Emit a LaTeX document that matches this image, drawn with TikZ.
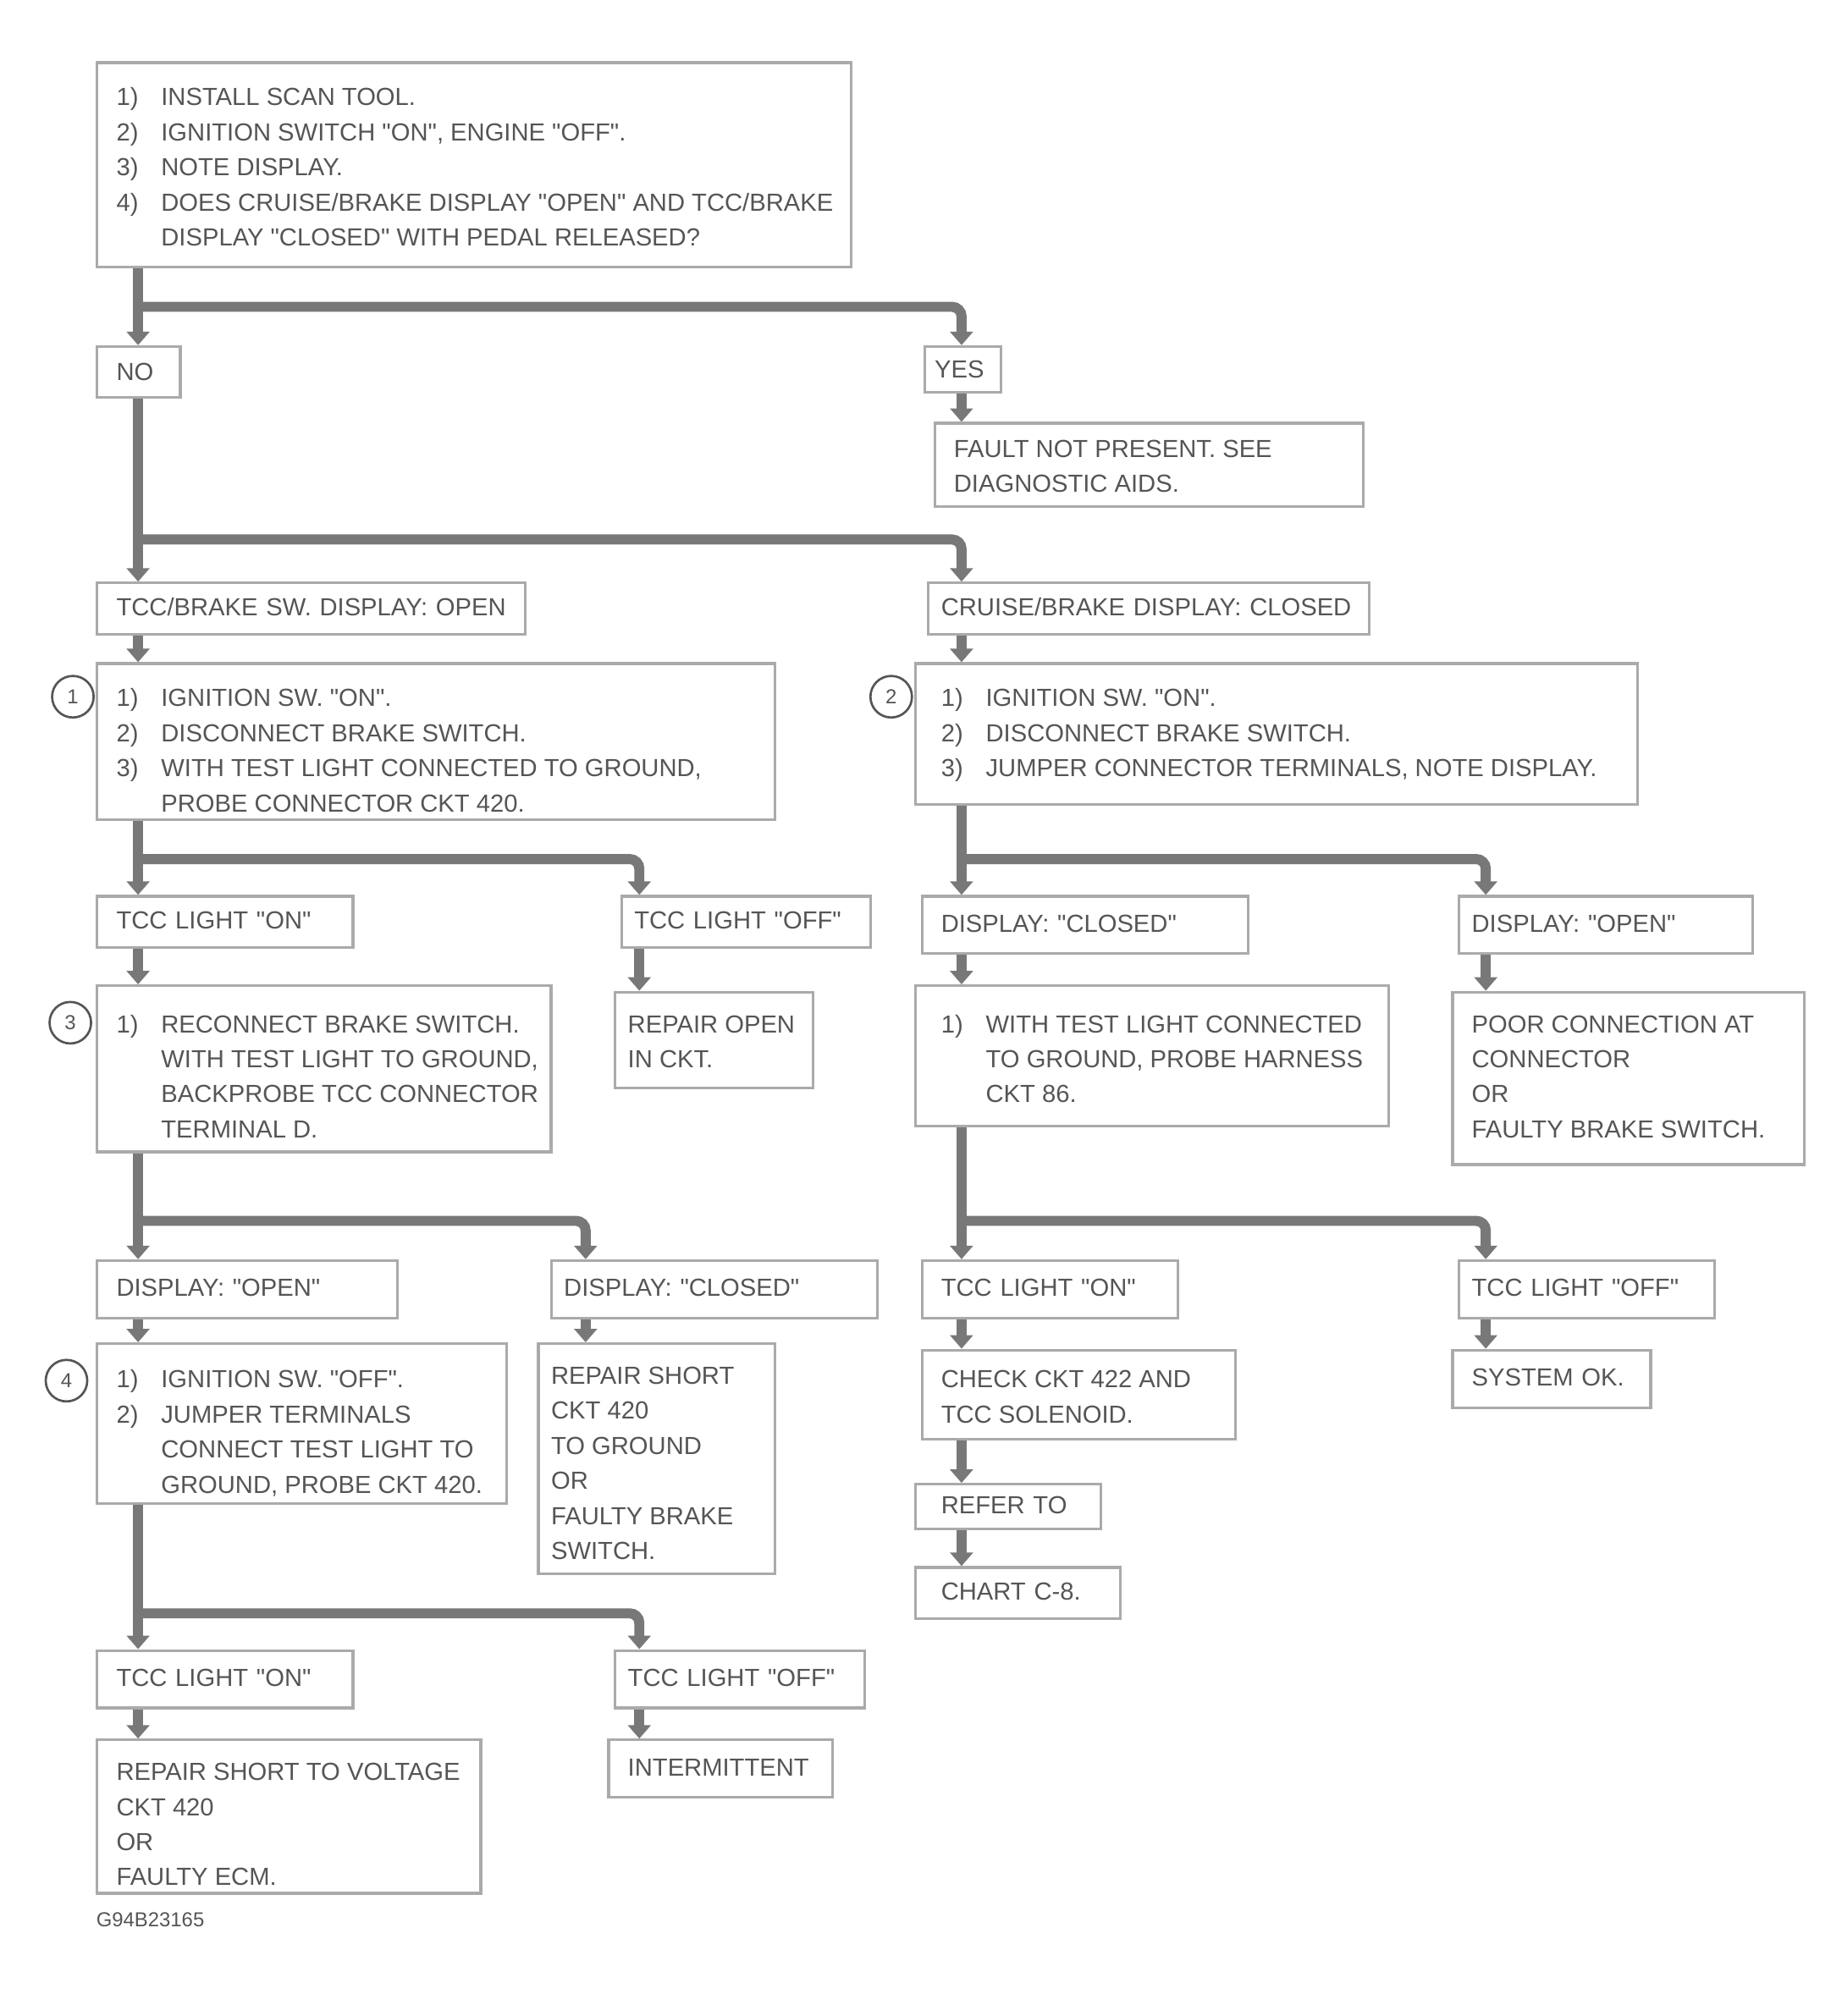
\documentclass[tikz,border=0pt]{standalone}
\usepackage{fontspec}
\setmainfont{Liberation Sans}[Ligatures=TeXOff]
\usetikzlibrary{arrows.meta,positioning}
\definecolor{linegray}{RGB}{120,120,120}
\definecolor{boxgray}{RGB}{170,170,170}
\definecolor{txtgray}{RGB}{85,85,85}
\newcommand{\nr}[1]{\makebox[0.7cm][l]{#1}}
\newcommand{\ind}{\hspace*{0.7cm}}
\newcommand{\lns}[1]{\begin{tabular}{@{}l@{}}#1\end{tabular}}
% text block: width, height, gap above first line, lines
\newcommand{\tb}[4]{\parbox[c][#2][t]{#1}{\vspace*{#3}\lns{#4}}}

\begin{document}
\begin{tikzpicture}[
    x=0.02cm, y=-0.02cm,
    box/.style={rectangle, draw=boxgray, line width=1.2pt, anchor=north west, inner ysep=0pt, inner xsep=0.3cm, align=left, text=txtgray, font=\fontsize{11}{15.6}\selectfont},
    flow/.style={draw=linegray, line width=4.5pt, -{Triangle[length=6pt,width=10pt]}, rounded corners=0.15cm},
    circnum/.style={circle, draw=txtgray, line width=1pt, minimum size=0.65cm, inner sep=0pt, text=txtgray, font=\small}
]
\useasboundingbox (0,0) rectangle (1440,1577);

% trunk columns and branch points
\coordinate (tl) at (108,0);
\coordinate (tr) at (752,0);
\coordinate (cl) at (500,0);
\coordinate (cm) at (458,0);
\coordinate (cr) at (1162,0);
\coordinate (b1) at (108,240);
\coordinate (b2) at (108,422);
\coordinate (b3) at (108,672);
\coordinate (b4) at (752,672);
\coordinate (b5) at (108,955);
\coordinate (b6) at (752,955);
\coordinate (b7) at (108,1262);

% start
\node[box] (top) at (75,48) {\tb{11.2cm}{3.2cm}{0.29cm}{%
\nr{1)}INSTALL SCAN TOOL.\\
\nr{2)}IGNITION SWITCH "ON", ENGINE "OFF".\\
\nr{3)}NOTE DISPLAY.\\
\nr{4)}DOES CRUISE/BRAKE DISPLAY "OPEN" AND TCC/BRAKE\\
\ind DISPLAY "CLOSED" WITH PEDAL RELEASED?}};
\node[box, text width=0.7cm, minimum height=0.8cm] (no) at (75,270) {NO};
\node[box, inner xsep=0.16cm, text width=0.88cm, minimum height=0.72cm] (yes) at (722,270) {YES};
\node[box] (aids) at (730,330) {\tb{6.1cm}{1.3cm}{0.15cm}{FAULT NOT PRESENT. SEE\\DIAGNOSTIC AIDS.}};

% display branch
\node[box, text width=6.1cm, minimum height=0.8cm] (dispL) at (75,455) {\lns{TCC/BRAKE SW. DISPLAY: OPEN}};
\node[box, inner xsep=0.2cm, text width=6.5cm, minimum height=0.8cm] (dispR) at (725,455) {\lns{CRUISE/BRAKE DISPLAY: CLOSED}};

\node[box] (testL) at (75,518) {\tb{10cm}{2.44cm}{0.29cm}{%
\nr{1)}IGNITION SW. "ON".\\
\nr{2)}DISCONNECT BRAKE SWITCH.\\
\nr{3)}WITH TEST LIGHT CONNECTED TO GROUND,\\
\ind PROBE CONNECTOR CKT 420.}};
\node[box, inner xsep=0.4cm] (testR) at (715,518) {\tb{10.5cm}{2.2cm}{0.29cm}{%
\nr{1)}IGNITION SW. "ON".\\
\nr{2)}DISCONNECT BRAKE SWITCH.\\
\nr{3)}JUMPER CONNECTOR TERMINALS, NOTE DISPLAY.}};
\node[circnum] (n1) at (57,545) {1};
\node[circnum] (n2) at (697,545) {2};

% left, first test
\node[box, text width=3.4cm, minimum height=0.8cm] (lonL) at (75,700) {\lns{TCC LIGHT "ON"}};
\node[box, inner xsep=0.2cm, text width=3.5cm, minimum height=0.8cm] (loffL) at (485,700) {\lns{TCC LIGHT "OFF"}};
\node[box] (openL) at (75,770) {\tb{6.5cm}{2.6cm}{0.35cm}{%
\nr{1)}RECONNECT BRAKE SWITCH.\\
\ind WITH TEST LIGHT TO GROUND,\\
\ind BACKPROBE TCC CONNECTOR\\
\ind TERMINAL D.}};
\node[box, inner xsep=0.2cm] (repL) at (480,775) {\tb{2.7cm}{1.5cm}{0.25cm}{REPAIR OPEN\\IN CKT.}};
\node[circnum] (n3) at (55,800) {3};

% right, first test
\node[box, text width=4.5cm, minimum height=0.9cm] (dclR) at (720,700) {\lns{DISPLAY: "CLOSED"}};
\node[box, inner xsep=0.2cm, text width=4.2cm, minimum height=0.9cm] (dopR) at (1140,700) {\lns{DISPLAY: "OPEN"}};
\node[box, inner xsep=0.4cm] (probeR) at (715,770) {\tb{6.6cm}{2.2cm}{0.35cm}{%
\nr{1)}WITH TEST LIGHT CONNECTED\\
\ind TO GROUND, PROBE HARNESS\\
\ind CKT 86.}};
\node[box] (connR) at (1135,775) {\tb{4.9cm}{2.7cm}{0.25cm}{POOR CONNECTION AT\\CONNECTOR\\OR\\FAULTY BRAKE SWITCH.}};

% left, second test
\node[box, text width=4.1cm, minimum height=0.9cm] (dopL) at (75,985) {\lns{DISPLAY: "OPEN"}};
\node[box, inner xsep=0.2cm, text width=4.7cm, minimum height=0.9cm] (dclL) at (430,985) {\lns{DISPLAY: "CLOSED"}};
\node[box] (gndL) at (75,1050) {\tb{5.8cm}{2.5cm}{0.31cm}{%
\nr{1)}IGNITION SW. "OFF".\\
\nr{2)}JUMPER TERMINALS\\
\ind CONNECT TEST LIGHT TO\\
\ind GROUND, PROBE CKT 420.}};
\node[box, inner xsep=0.2cm] (shortL) at (420,1050) {\tb{3.3cm}{3.6cm}{0.25cm}{REPAIR SHORT\\CKT 420\\TO GROUND\\OR\\FAULTY BRAKE\\SWITCH.}};
\node[circnum] (n4) at (52,1080) {4};

% right, second test
\node[box, text width=3.4cm, minimum height=0.9cm] (lonR) at (720,985) {\lns{TCC LIGHT "ON"}};
\node[box, inner xsep=0.2cm, text width=3.6cm, minimum height=0.9cm] (loffR) at (1140,985) {\lns{TCC LIGHT "OFF"}};
\node[box] (solR) at (720,1055) {\tb{4.3cm}{1.4cm}{0.21cm}{CHECK CKT 422 AND\\TCC SOLENOID.}};
\node[box, text width=2.5cm, minimum height=0.9cm] (okR) at (1135,1055) {\lns{SYSTEM OK.}};
\node[box, inner xsep=0.4cm, text width=2.1cm, minimum height=0.7cm] (refR) at (715,1160) {\lns{REFER TO}};
\node[box, inner xsep=0.4cm, text width=2.4cm, minimum height=0.8cm] (chartR) at (715,1225) {\lns{CHART C-8.}};

% left, last test
\node[box, text width=3.4cm, minimum height=0.9cm] (lonB) at (75,1290) {\lns{TCC LIGHT "ON"}};
\node[box, inner xsep=0.2cm, text width=3.5cm, minimum height=0.9cm] (loffB) at (480,1290) {\lns{TCC LIGHT "OFF"}};
\node[box] (ecmB) at (75,1360) {\tb{5.4cm}{2.4cm}{0.25cm}{REPAIR SHORT TO VOLTAGE\\CKT 420\\OR\\FAULTY ECM.}};
\node[box, text width=2.9cm, minimum height=0.9cm] (intB) at (475,1360) {\lns{INTERMITTENT}};

\node[anchor=north west, inner sep=0pt, text=txtgray, font=\fontsize{9}{11}\selectfont] (figid) at (75,1496) {G94B23165};

% connectors
\draw[flow] (tl |- top.south) -- (tl |- no.north);
\draw[flow] (b1) -| (tr |- yes.north);
\draw[flow] (tr |- yes.south) -- (tr |- aids.north);
\draw[flow] (tl |- no.south) -- (tl |- dispL.north);
\draw[flow] (b2) -| (tr |- dispR.north);
\draw[flow] (tl |- dispL.south) -- (tl |- testL.north);
\draw[flow] (tr |- dispR.south) -- (tr |- testR.north);
\draw[flow] (tl |- testL.south) -- (tl |- lonL.north);
\draw[flow] (b3) -| (cl |- loffL.north);
\draw[flow] (tr |- testR.south) -- (tr |- dclR.north);
\draw[flow] (b4) -| (cr |- dopR.north);
\draw[flow] (tl |- lonL.south) -- (tl |- openL.north);
\draw[flow] (cl |- loffL.south) -- (cl |- repL.north);
\draw[flow] (tr |- dclR.south) -- (tr |- probeR.north);
\draw[flow] (cr |- dopR.south) -- (cr |- connR.north);
\draw[flow] (tl |- openL.south) -- (tl |- dopL.north);
\draw[flow] (b5) -| (cm |- dclL.north);
\draw[flow] (tr |- probeR.south) -- (tr |- lonR.north);
\draw[flow] (b6) -| (cr |- loffR.north);
\draw[flow] (tl |- dopL.south) -- (tl |- gndL.north);
\draw[flow] (cm |- dclL.south) -- (cm |- shortL.north);
\draw[flow] (tr |- lonR.south) -- (tr |- solR.north);
\draw[flow] (cr |- loffR.south) -- (cr |- okR.north);
\draw[flow] (tr |- solR.south) -- (tr |- refR.north);
\draw[flow] (tr |- refR.south) -- (tr |- chartR.north);
\draw[flow] (tl |- gndL.south) -- (tl |- lonB.north);
\draw[flow] (b7) -| (cl |- loffB.north);
\draw[flow] (tl |- lonB.south) -- (tl |- ecmB.north);
\draw[flow] (cl |- loffB.south) -- (cl |- intB.north);
\end{tikzpicture}
\end{document}
